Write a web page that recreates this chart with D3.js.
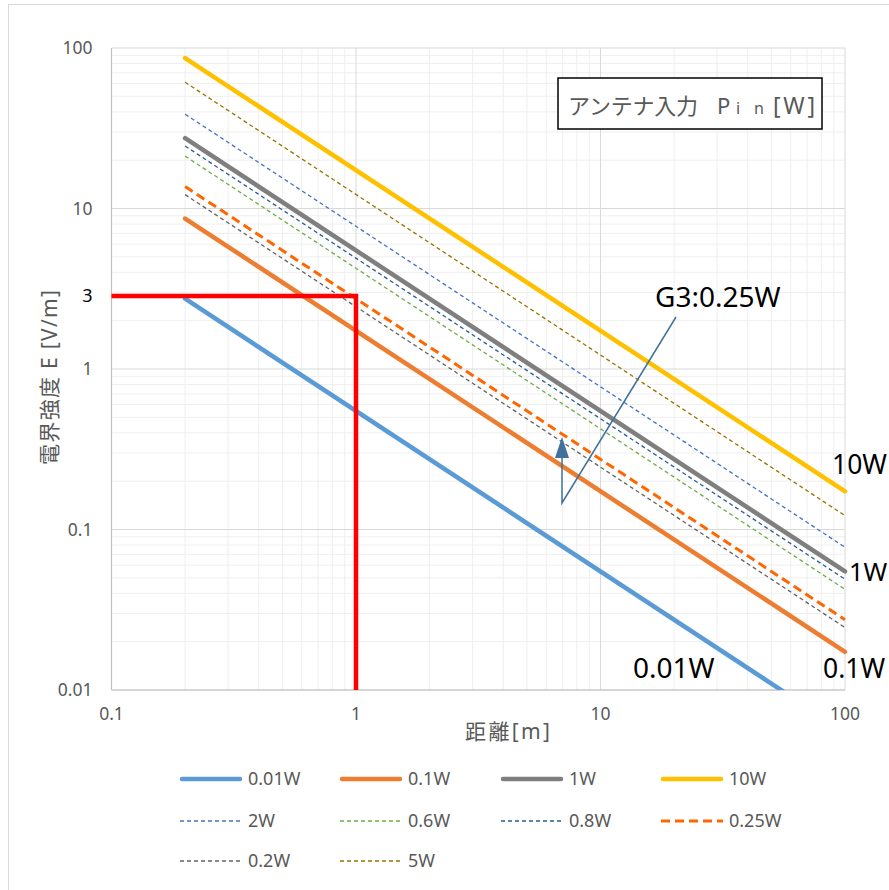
<!DOCTYPE html>
<html><head><meta charset="utf-8">
<script src="https://cdn.jsdelivr.net/npm/d3@7"></script>
<style>body{margin:0;background:#fff}svg{display:block}</style>
</head><body>
<svg id="c" width="889" height="890"></svg>
<script>
// ---- data ----
const distances = [0.2, 100];
const seriesNames = ["0.01W","0.1W","1W","10W","2W","0.6W","0.8W","0.25W","0.2W","5W"];
const e001 = [2.74, 0.00548];
const e01  = [8.66, 0.0173];
const e1   = [27.4, 0.0548];
const e10  = [86.6, 0.173];
const e2   = [38.7, 0.0775];
const e06  = [21.2, 0.0424];
const e08  = [24.5, 0.049];
const e025 = [13.7, 0.0274];
const e02  = [12.2, 0.0245];
const e5   = [61.2, 0.122];
const seriesValues = [e001, e01, e1, e10, e2, e06, e08, e025, e02, e5];
const xTicks = [0.1, 1, 10, 100];
const xTickLabels = ["0.1","1","10","100"];
const yTicks = [0.01, 0.1, 1, 10, 100];
const yTickLabels = ["0.01","0.1","1","10","100"];
const refX = [0.1, 1, 1];       // red guide line
const refY = [2.85, 2.85, 0.01];
const refLabel = "3";

// ---- styles ----
const styles = {
  "0.01W": {c:"#5B9BD5", w:4.5, d:null},
  "0.1W":  {c:"#ED7D31", w:4.5, d:null},
  "1W":    {c:"#7F7F7F", w:4.5, d:null},
  "10W":   {c:"#FFC000", w:4.5, d:null},
  "2W":    {c:"#4472C4", w:1.3, d:"4,3"},
  "0.6W":  {c:"#70AD47", w:1.3, d:"4,3"},
  "0.8W":  {c:"#255E91", w:1.3, d:"4,3"},
  "0.25W": {c:"#FF6600", w:3,   d:"9,5"},
  "0.2W":  {c:"#636363", w:1.3, d:"4,3"},
  "5W":    {c:"#997300", w:1.3, d:"4,3"}
};

const svg = d3.select("#c");
const FONT = "'Noto Sans','Noto Sans CJK JP',sans-serif";
const L=111.5, R=845, T=48, B=690;
const x = d3.scaleLog().domain([0.1,100]).range([L,R]);
const y = d3.scaleLog().domain([0.01,100]).range([B,T]);

// outer border
svg.append("rect").attr("x",8.5).attr("y",4.5).attr("width",900).attr("height",900)
  .attr("fill","#fff").attr("stroke","#d9d9d9");

// grid
const minorX=[], minorY=[];
for (let e=-1;e<2;e++) for (let m=2;m<10;m++) minorX.push(m*Math.pow(10,e));
for (let e=-2;e<2;e++) for (let m=2;m<10;m++) minorY.push(m*Math.pow(10,e));
const g = svg.append("g");
g.selectAll(".mx").data(minorX).enter().append("line")
  .attr("x1",d=>x(d)).attr("x2",d=>x(d)).attr("y1",T).attr("y2",B)
  .attr("stroke","#efefef").attr("stroke-width",1);
g.selectAll(".my").data(minorY).enter().append("line")
  .attr("x1",L).attr("x2",R).attr("y1",d=>y(d)).attr("y2",d=>y(d))
  .attr("stroke","#efefef").attr("stroke-width",1);
g.selectAll(".Mx").data(xTicks).enter().append("line")
  .attr("x1",d=>x(d)).attr("x2",d=>x(d)).attr("y1",T).attr("y2",B)
  .attr("stroke","#d9d9d9").attr("stroke-width",1);
g.selectAll(".My").data(yTicks).enter().append("line")
  .attr("x1",L).attr("x2",R).attr("y1",d=>y(d)).attr("y2",d=>y(d))
  .attr("stroke","#d9d9d9").attr("stroke-width",1);
g.append("line").attr("x1",L).attr("x2",L).attr("y1",T).attr("y2",B).attr("stroke","#bfbfbf").attr("stroke-width",1.2);
g.append("line").attr("x1",L).attr("x2",R).attr("y1",B).attr("y2",B).attr("stroke","#bfbfbf").attr("stroke-width",1.2);

// tick labels
svg.selectAll(".xt").data(xTicks).enter().append("text")
  .attr("x",d=>x(d)).attr("y",B+30).attr("text-anchor","middle")
  .attr("font-family",FONT).attr("font-size",17.5).attr("fill","#595959")
  .text((d,i)=>xTickLabels[i]);
svg.selectAll(".yt").data(yTicks).enter().append("text")
  .attr("x",L-19).attr("y",d=>y(d)).attr("dy","0.35em").attr("text-anchor","end")
  .attr("font-family",FONT).attr("font-size",17.5).attr("fill","#595959")
  .text((d,i)=>yTickLabels[i]);
svg.append("text").attr("x",L-19).attr("y",y(refY[0])).attr("dy","0.35em").attr("text-anchor","end")
  .attr("font-family",FONT).attr("font-size",18).attr("fill","#000").text(refLabel);

// axis titles
svg.append("text").attr("transform",`translate(57,377.5) rotate(-90)`).attr("text-anchor","middle")
  .attr("font-family",FONT).attr("font-size",21).attr("fill","#595959")
  .attr("textLength",175).attr("lengthAdjust","spacing").text("電界強度 E [V/m]");
svg.append("text").attr("x",507.5).attr("y",739).attr("text-anchor","middle")
  .attr("font-family",FONT).attr("font-size",21).attr("fill","#595959")
  .attr("textLength",85).attr("lengthAdjust","spacing").text("距離[m]");

// clip
svg.append("clipPath").attr("id","pc").append("rect").attr("x",L).attr("y",T-10).attr("width",R-L+10).attr("height",B-T+10);

const line = d3.line().x(d=>x(d[0])).y(d=>y(d[1]));
const drawOrder = [4,5,6,7,8,9,0,1,2,3];
const lg = svg.append("g").attr("clip-path","url(#pc)");
drawOrder.forEach(i=>{
  const name = seriesNames[i], s = styles[name];
  const pts = distances.map((d,j)=>[d, seriesValues[i][j]]);
  lg.append("path").attr("d",line(pts)).attr("fill","none")
    .attr("stroke",s.c).attr("stroke-width",s.w)
    .attr("stroke-dasharray",s.d).attr("stroke-linecap",s.d?"butt":"round");
});

// red guide
const refPts = refX.map((d,i)=>[d,refY[i]]);
svg.append("path").attr("d",line(refPts)).attr("fill","none").attr("stroke","#FF0000").attr("stroke-width",4.5);

// annotation box
svg.append("rect").attr("x",558).attr("y",78).attr("width",264).attr("height",51)
  .attr("fill","#fff").attr("stroke","#000").attr("stroke-width",1.5);
const at = svg.append("text").attr("y",114).attr("font-family",FONT).attr("fill","#595959").attr("font-size",22);
at.append("tspan").attr("x",568).attr("textLength",130).attr("lengthAdjust","spacing").text("アンテナ入力");
at.append("tspan").attr("x",717).text("P");
at.append("tspan").attr("x",736).attr("font-size",16).text("i");
at.append("tspan").attr("x",754).attr("font-size",16).text("n");
at.append("tspan").attr("x",773).attr("font-size",23).attr("textLength",42).attr("lengthAdjust","spacing").text("[W]");

// G3 callout
const CALL="#41719C";
svg.append("polyline").attr("points","676,317 562,503 562,455").attr("fill","none").attr("stroke",CALL).attr("stroke-width",1.5);
svg.append("path").attr("d","M562,437 L555,458 L569,458 Z").attr("fill",CALL);
const big = (t,xx,yy,fs)=>svg.append("text").attr("x",xx).attr("y",yy).attr("font-family",FONT)
  .attr("font-size",fs||28).attr("fill","#000").text(t);
big("G3:0.25W",655,307);
big("10W",832,474,26.5);
big("1W",849,581,25.5);
big("0.1W",823,678,26.5);
big("0.01W",633,678);

// legend
const legOrder = ["0.01W","0.1W","1W","10W","2W","0.6W","0.8W","0.25W","0.2W","5W"];
const colX=[180,340,501,661], rowY=[779,821,861];
legOrder.forEach((n,i)=>{
  const s=styles[n], cx=colX[i%4], cy=rowY[Math.floor(i/4)];
  svg.append("line").attr("x1",cx+(s.d?0:2)).attr("x2",cx+62-(s.d?0:2)).attr("y1",cy).attr("y2",cy)
    .attr("stroke",s.c).attr("stroke-width",s.w).attr("stroke-dasharray",s.d)
    .attr("stroke-linecap",s.d?"butt":"round");
  svg.append("text").attr("x",cx+68).attr("y",cy).attr("dy","0.35em")
    .attr("font-family",FONT).attr("font-size",18).attr("fill","#595959").text(n);
});
</script>
</body></html>
